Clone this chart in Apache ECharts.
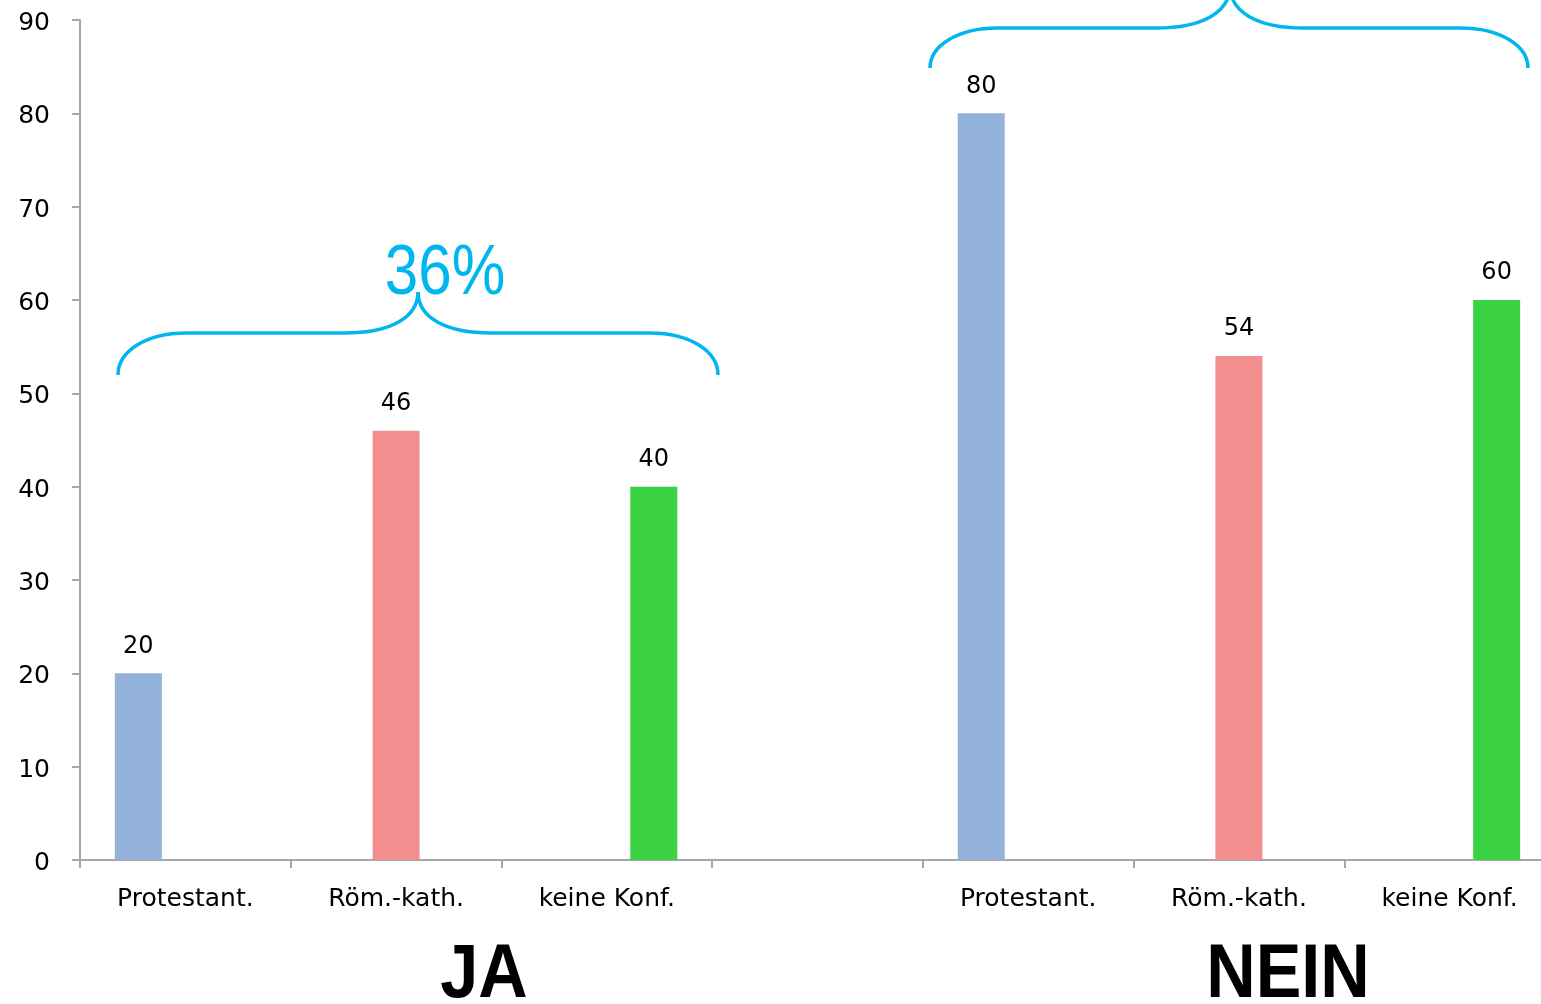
<!DOCTYPE html>
<html>
<head>
<meta charset="utf-8">
<script src="https://cdn.jsdelivr.net/npm/echarts@6/dist/echarts.min.js"></script>
<style>
html,body{margin:0;padding:0;background:#fff;overflow:hidden;width:1541px;height:1004px;}
#c{width:1555px;height:1004px;}
</style>
</head>
<body>
<div id="c"></div>
<script>
const categories = ['Protestant.', 'Röm.-kath.', 'keine Konf.', '', 'Protestant.', 'Röm.-kath.', 'keine Konf.'];
const protestantValues = [20, '-', '-', '-', 80, '-', '-'];
const katholischValues = ['-', 46, '-', '-', '-', 54, '-'];
const keineKonfValues = ['-', '-', 40, '-', '-', '-', 60];
const yTicks = {min: 0, max: 90, interval: 10};
const groupLabels = ['JA', 'NEIN'];
const bracketLabel = '36%';

const chart = echarts.init(document.getElementById('c'), null, {renderer: 'canvas'});
const axisColor = '#a6a6a6';
const labelFont = {fontFamily: 'DejaVu Sans', fontSize: 25, color: '#000'};
const barLabel = {show: true, position: 'top', distance: 15, fontFamily: 'DejaVu Sans', fontSize: 24, color: '#000'};
const cyan = '#00b6ee';

function bar(name, data, color) {
  return {
    name, type: 'bar', data, barWidth: 47, barGap: '0%',
    itemStyle: {color},
    label: barLabel
  };
}

// curly brace: left end x, right end x, tip x, end y, flat y, tip y
function brace(xl, xr, xt, ye, yf, yt) {
  const st = {fill: 'none', stroke: cyan, lineWidth: 3.5};
  const r = 68, c = 74;
  return [
    {type: 'bezierCurve', shape: {x1: xl, y1: ye, cpx1: xl, cpy1: ye - (ye - yf) * 0.55, cpx2: xl + r * 0.4, cpy2: yf, x2: xl + r, y2: yf}, style: st},
    {type: 'line', shape: {x1: xl + r, y1: yf, x2: xt - c, y2: yf}, style: st},
    {type: 'bezierCurve', shape: {x1: xt - c, y1: yf, cpx1: xt - c * 0.35, cpy1: yf, cpx2: xt, cpy2: yf - (yf - yt) * 0.4, x2: xt, y2: yt}, style: st},
    {type: 'bezierCurve', shape: {x1: xt, y1: yt, cpx1: xt, cpy1: yf - (yf - yt) * 0.4, cpx2: xt + c * 0.35, cpy2: yf, x2: xt + c, y2: yf}, style: st},
    {type: 'line', shape: {x1: xt + c, y1: yf, x2: xr - r, y2: yf}, style: st},
    {type: 'bezierCurve', shape: {x1: xr - r, y1: yf, cpx1: xr - r * 0.4, cpy1: yf, cpx2: xr, cpy2: ye - (ye - yf) * 0.55, x2: xr, y2: ye}, style: st}
  ];
}

chart.setOption({
  animation: false,
  grid: {left: 80, right: 0, top: 20, bottom: 144},
  xAxis: {
    type: 'category', data: categories,
    axisLine: {lineStyle: {color: axisColor, width: 2}},
    axisTick: {show: true, length: 8, lineStyle: {color: axisColor, width: 2}},
    axisLabel: Object.assign({margin: 27, interval: 0}, labelFont)
  },
  yAxis: {
    type: 'value', min: yTicks.min, max: yTicks.max, interval: yTicks.interval,
    splitLine: {show: false},
    axisLine: {show: true, lineStyle: {color: axisColor, width: 2}},
    axisTick: {show: true, length: 8, lineStyle: {color: axisColor, width: 2}},
    axisLabel: {margin: 30, formatter: '{a|{value}}',
      rich: {a: {fontFamily: 'DejaVu Sans', fontSize: 25, color: '#000', padding: [7, 0, 0, 0]}}}
  },
  series: [
    bar('Protestant.', protestantValues, '#93b2d9'),
    bar('Röm.-kath.', katholischValues, '#f28e8e'),
    bar('keine Konf.', keineKonfValues, '#3bd343')
  ],
  graphic: [].concat(
    brace(118, 718, 418, 375, 333, 292),
    brace(930, 1528, 1230, 68, 28, -14),
    [
      {type: 'text', x: 445, y: 275, scaleX: 0.86, style: {text: bracketLabel, x: 0, y: 0, fill: cyan,
        font: '70px "Liberation Sans"', align: 'center', verticalAlign: 'middle'}},
      {type: 'text', x: 484, y: 976, scaleX: 0.9, style: {text: groupLabels[0], x: 0, y: 0, fill: '#000',
        font: 'bold 76px "Liberation Sans"', align: 'center', verticalAlign: 'middle'}},
      {type: 'text', x: 1288, y: 976, scaleX: 0.9, style: {text: groupLabels[1], x: 0, y: 0, fill: '#000',
        font: 'bold 76px "Liberation Sans"', align: 'center', verticalAlign: 'middle'}}
    ]
  )
});
</script>
</body>
</html>
